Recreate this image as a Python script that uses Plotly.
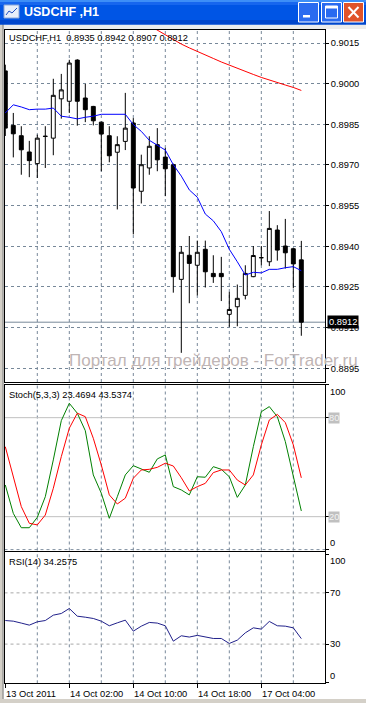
import plotly.graph_objects as go

# ---------------- data ----------------
bar_index = list(range(38))

open_ = [0.90047, 0.89846, 0.89808, 0.89748, 0.89705, 0.89805, 0.89799, 0.89944, 0.89935, 0.90087,
         0.89947, 0.89916, 0.89858, 0.89808, 0.89747, 0.89787, 0.89855, 0.89603, 0.89689, 0.89775,
         0.89729, 0.89701, 0.89278, 0.89367, 0.89330, 0.89389, 0.89300, 0.89300, 0.89149, 0.89177,
         0.89219, 0.89288, 0.89358, 0.89343, 0.89460, 0.89401, 0.89391, 0.89350]
high = [0.90070, 0.89892, 0.89843, 0.89789, 0.89812, 0.89843, 0.90018, 0.90036, 0.90088, 0.90090,
        0.89999, 0.89918, 0.89860, 0.89843, 0.89806, 0.89966, 0.89873, 0.89738, 0.89806, 0.89836,
        0.89763, 0.89705, 0.89401, 0.89438, 0.89421, 0.89421, 0.89367, 0.89361, 0.89232, 0.89259,
        0.89330, 0.89401, 0.89401, 0.89530, 0.89478, 0.89501, 0.89393, 0.89420]
low = [0.89807, 0.89728, 0.89664, 0.89655, 0.89652, 0.89689, 0.89736, 0.89871, 0.89892, 0.89845,
       0.89858, 0.89846, 0.89677, 0.89710, 0.89536, 0.89755, 0.89444, 0.89558, 0.89664, 0.89677,
       0.89585, 0.89229, 0.89007, 0.89190, 0.89219, 0.89248, 0.89265, 0.89198, 0.89103, 0.89105,
       0.89204, 0.89286, 0.89330, 0.89327, 0.89347, 0.89318, 0.89245, 0.89070]
close = [0.89836, 0.89815, 0.89756, 0.89716, 0.89799, 0.89806, 0.89957, 0.89977, 0.90076, 0.89935,
         0.89904, 0.89863, 0.89814, 0.89734, 0.89775, 0.89836, 0.89615, 0.89701, 0.89769, 0.89719,
         0.89686, 0.89288, 0.89378, 0.89337, 0.89378, 0.89306, 0.89288, 0.89288, 0.89167, 0.89208,
         0.89300, 0.89366, 0.89358, 0.89466, 0.89386, 0.89376, 0.89335, 0.89120]

ma_blue = [0.89892, 0.89922, 0.89914, 0.89904, 0.89906, 0.89906, 0.89910, 0.89880, 0.89876, 0.89870,
           0.89876, 0.89880, 0.89887, 0.89887, 0.89887, 0.89887, 0.89849, 0.89824, 0.89791, 0.89773,
           0.89755, 0.89701, 0.89659, 0.89608, 0.89581, 0.89519, 0.89494, 0.89454, 0.89389, 0.89343,
           0.89294, 0.89304, 0.89302, 0.89315, 0.89315, 0.89321, 0.89325, 0.89310]
ma_red = [None] * 17 + [0.90232, 0.90215, 0.90198, 0.90178, 0.90161, 0.90146, 0.90132, 0.90118,
                        0.90106, 0.90093, 0.90080, 0.90068, 0.90056, 0.90045, 0.90034, 0.90023,
                        0.90013, 0.90004, 0.89995, 0.89986, 0.89975]

stoch_main = [39.2, 22.0, 13.3, 13.3, 19.6, 32.1, 54.4, 78.2, 88.7, 82.7,
              72.1, 45.3, 34.2, 19.0, 32.1, 45.3, 50.9, 48.7, 46.9, 55.0,
              57.4, 38.2, 36.2, 33.2, 44.2, 43.9, 50.3, 48.7, 44.2, 31.7,
              39.2, 62.4, 83.6, 86.7, 80.6, 65.5, 44.2, 23.47]
stoch_signal = [62.4, 44.2, 26.1, 16.0, 15.0, 21.0, 37.2, 56.4, 73.6, 82.7,
                80.6, 67.5, 51.3, 33.2, 27.7, 31.2, 43.3, 48.3, 48.7, 49.9,
                52.4, 50.7, 43.6, 35.6, 38.2, 40.2, 46.7, 48.3, 48.3, 42.2,
                39.2, 45.3, 63.5, 78.6, 82.0, 77.0, 63.5, 43.54]
rsi = [48.4, 47.9, 46.4, 44.8, 47.4, 48.4, 52.6, 53.9, 57.8, 51.8,
       51.0, 50.0, 47.9, 44.3, 46.6, 48.7, 40.1, 44.0, 46.9, 46.4,
       44.3, 32.3, 36.5, 35.5, 36.8, 35.5, 34.4, 34.4, 30.5, 33.1,
       38.8, 42.7, 41.7, 47.7, 44.3, 44.0, 42.7, 34.26]

price_ticks = [0.8895, 0.8910, 0.8925, 0.8940, 0.8955, 0.8970, 0.8985, 0.9000, 0.9015]
time_tick_bars = [0, 8, 16, 24, 32]
time_tick_labels = ["13 Oct 2011", "14 Oct 02:00", "14 Oct 10:00", "14 Oct 18:00", "17 Oct 04:00"]
grid_bars = [4, 8, 12, 16, 20, 24, 28, 32, 36]
stoch_levels = [80, 20]
rsi_levels = [70, 30]

# ---------------- geometry / style ----------------
W, H = 366, 703
FONT = "Liberation Sans"
FS = 9.3
GRID = "#778899"
DASH = "3px,3px"


def px(x):
    return x / W


def py(y):
    return 1 - y / H


PANE_L, PANE_R = 4.5, 325
MAIN_T, MAIN_B = 29.5, 382
ST_T, ST_B = 384.5, 550.5
RSI_T, RSI_B = 552, 683.3
XR = [-0.1, 39.96]

fig = go.Figure()

fig.add_trace(go.Candlestick(
    x=bar_index, open=open_, high=high, low=low, close=close,
    increasing=dict(line=dict(color="black", width=1), fillcolor="white"),
    decreasing=dict(line=dict(color="black", width=1), fillcolor="black"),
    whiskerwidth=0, xaxis="x", yaxis="y", showlegend=False, hoverinfo="skip"))
fig.add_trace(go.Scatter(x=bar_index, y=ma_blue, mode="lines", line=dict(color="#0000FF", width=1),
                         xaxis="x", yaxis="y", showlegend=False, hoverinfo="skip"))
fig.add_trace(go.Scatter(x=bar_index, y=ma_red, mode="lines", line=dict(color="#FF0000", width=1),
                         xaxis="x", yaxis="y", showlegend=False, hoverinfo="skip"))
fig.add_trace(go.Scatter(x=bar_index, y=stoch_main, mode="lines", line=dict(color="#008000", width=1),
                         xaxis="x2", yaxis="y2", showlegend=False, hoverinfo="skip"))
fig.add_trace(go.Scatter(x=bar_index, y=stoch_signal, mode="lines", line=dict(color="#FF0000", width=1),
                         xaxis="x2", yaxis="y2", showlegend=False, hoverinfo="skip"))
fig.add_trace(go.Scatter(x=bar_index, y=rsi, mode="lines", line=dict(color="#20208A", width=1),
                         xaxis="x3", yaxis="y3", showlegend=False, hoverinfo="skip"))

xbase = dict(domain=[px(PANE_L), px(PANE_R)], range=XR, showgrid=False, zeroline=False,
             showline=True, mirror=True, linecolor="black", linewidth=1, fixedrange=True)
ybase = dict(side="right", zeroline=False, showline=True, mirror=True, linecolor="black",
             linewidth=1, ticks="outside", ticklen=3, tickcolor="black", fixedrange=True)

layout = dict(
    width=W, height=H, margin=dict(l=0, r=0, t=0, b=0),
    paper_bgcolor="white", plot_bgcolor="white", showlegend=False,
    font=dict(family=FONT, size=FS, color="black"),
    xaxis=dict(xbase, anchor="y", showticklabels=False, ticks="", rangeslider=dict(visible=False)),
    yaxis=dict(ybase, anchor="x", domain=[py(MAIN_B), py(MAIN_T)], range=[0.888994, 0.901998],
               tickvals=price_ticks, ticktext=[f"{v:.4f}" for v in price_ticks],
               showgrid=True, gridcolor=GRID, gridwidth=1, griddash=DASH,
               tickfont=dict(family=FONT, size=FS, color="black")),
    xaxis2=dict(xbase, anchor="y2", showticklabels=False, ticks=""),
    yaxis2=dict(ybase, anchor="x2", domain=[py(ST_B), py(ST_T)], range=[-0.5, 100.1],
                tickvals=[0, 20, 80, 100], showticklabels=False, showgrid=False),
    xaxis3=dict(xbase, anchor="y3", tickvals=time_tick_bars, showticklabels=False,
                ticks="outside", ticklen=4, tickcolor="black"),
    yaxis3=dict(ybase, anchor="x3", domain=[py(RSI_B), py(RSI_T)], range=[-0.6, 101.9],
                tickvals=[0, 30, 70, 100], showticklabels=False, showgrid=False),
)
fig.update_layout(**layout)

shapes = []
# vertical dashed grid in every pane
for b in grid_bars:
    for xr, yr in [("x", "y"), ("x2", "y2"), ("x3", "y3")]:
        shapes.append(dict(type="line", xref=xr, yref=yr + " domain", x0=b, x1=b, y0=0, y1=1,
                           line=dict(color=GRID, width=1, dash=DASH), layer="below"))
# stochastic levels
for lv in stoch_levels:
    shapes.append(dict(type="line", xref="x2 domain", yref="y2", x0=0, x1=1, y0=lv, y1=lv,
                       line=dict(color="#C0C0C0", width=1), layer="below"))
shapes.append(dict(type="line", xref="x2 domain", yref="y2", x0=0, x1=1, y0=0, y1=0,
                   line=dict(color=GRID, width=1, dash=DASH), layer="below"))
# rsi levels
for lv in rsi_levels:
    shapes.append(dict(type="line", xref="x3 domain", yref="y3", x0=0, x1=1, y0=lv, y1=lv,
                       line=dict(color="#A8A8A8", width=1, dash=DASH), layer="below"))
# current price line
shapes.append(dict(type="line", xref="x domain", yref="y", x0=0, x1=1, y0=close[-1], y1=close[-1],
                   line=dict(color=GRID, width=1), layer="below"))


def prect(x0, y0, x1, y1, fill, line=None, lw=0):
    return dict(type="rect", xref="paper", yref="paper", x0=px(x0), x1=px(x1), y0=py(y1), y1=py(y0),
                fillcolor=fill, line=dict(color=line or fill, width=lw), layer="above")


def pline(x0, y0, x1, y1, color, lw=1):
    return dict(type="line", xref="paper", yref="paper", x0=px(x0), x1=px(x1), y0=py(y0), y1=py(y1),
                line=dict(color=color, width=lw), layer="above")


# window chrome
shapes += [
    prect(0, 24, 366, 29, "#ECECEC"),
    prect(0, 24, 3.5, 703, "#D4D0C8"),
    pline(3, 24, 3, 699, "#808080"),
    prect(0, 699, 366, 703, "#D4D0C8"),
    prect(0, 0, 366, 24.5, "#0055E5"),
    prect(0, 0, 366, 2, "#3D8EF7"),
    prect(0, 2, 366, 5, "#1766EE"),
    prect(0, 20, 366, 24.5, "#0046CC"),
    # icon
    prect(4, 5, 19, 18, "#E6EEFA", "#8AA6D6", 1),
    pline(6, 15, 9, 11, "#2050C0"), pline(9, 11, 12, 13, "#2050C0"), pline(12, 13, 17, 8, "#2050C0"),
    # minimize
    prect(298.5, 2.5, 318.5, 22, "#2A6BF0", "white", 1),
    prect(303, 15, 310, 17.5, "white"),
    # maximize
    prect(321.5, 2.5, 341.5, 22, "#2A6BF0", "white", 1),
    prect(325.5, 6, 337.5, 18, "rgba(0,0,0,0)", "white", 1),
    prect(325.5, 6, 337.5, 8.5, "white"),
    # close
    prect(343.5, 2.5, 363.5, 22, "#E0532A", "white", 1),
    pline(348.5, 7, 358.5, 17.5, "white", 2),
    pline(358.5, 7, 348.5, 17.5, "white", 2),
]
fig.update_layout(shapes=shapes)

ann = []
tf = dict(family=FONT, size=FS, color="black")
ann.append(dict(xref="paper", yref="paper", x=px(7), y=py(38), xanchor="left", yanchor="middle",
                text="USDCHF,H1\u00a0\u00a0%.4f %.4f %.4f %.4f" % (open_[-1], high[-1], low[-1], close[-1]),
                showarrow=False, font=tf))
ann.append(dict(xref="paper", yref="paper", x=px(7), y=py(395), xanchor="left", yanchor="middle",
                text="Stoch(5,3,3) 23.4694 43.5374", showarrow=False, font=tf))
ann.append(dict(xref="paper", yref="paper", x=px(7), y=py(562), xanchor="left", yanchor="middle",
                text="RSI(14) 34.2575", showarrow=False, font=tf))
# watermark
ann.append(dict(xref="paper", yref="paper", x=px(213), y=py(360), xanchor="center", yanchor="middle",
                text="Портал для трейдеров - ForTrader.ru", showarrow=False,
                font=dict(family=FONT, size=17, color="#BFB5B5")))
# current price box
ann.append(dict(xref="paper", yref="y", x=px(326.5), y=close[-1], xanchor="left", yanchor="middle",
                text="%.4f" % close[-1], showarrow=False, bgcolor="black", borderpad=1,
                font=dict(family=FONT, size=FS, color="white")))
# stochastic axis labels
LX = px(328)
ann.append(dict(xref="paper", yref="y2", x=LX, y=100, xanchor="left", yanchor="top", text="100",
                showarrow=False, font=tf))
ann.append(dict(xref="paper", yref="y2", x=LX, y=0, xanchor="left", yanchor="bottom", text="0",
                showarrow=False, font=tf))
for lv in stoch_levels:
    ann.append(dict(xref="paper", yref="y2", x=LX, y=lv, xanchor="left", yanchor="middle", text=str(lv),
                    showarrow=False, bgcolor="#C0C0C0", borderpad=0,
                    font=dict(family=FONT, size=FS, color="#F4F4F4")))
# rsi axis labels
ann.append(dict(xref="paper", yref="y3", x=LX, y=100, xanchor="left", yanchor="top", text="100",
                showarrow=False, font=tf))
ann.append(dict(xref="paper", yref="y3", x=LX, y=0, xanchor="left", yanchor="bottom", text="0",
                showarrow=False, font=tf))
for lv in rsi_levels:
    ann.append(dict(xref="paper", yref="y3", x=LX, y=lv, xanchor="left", yanchor="middle", text=str(lv),
                    showarrow=False, font=tf))
# time labels
for b, lab in zip(time_tick_bars, time_tick_labels):
    ann.append(dict(xref="x3", yref="paper", x=b, y=py(693.5), xanchor="left", yanchor="middle",
                    xshift=-1, text=lab, showarrow=False, font=tf))
# window title
ann.append(dict(xref="paper", yref="paper", x=px(21.5), y=py(12), xanchor="left", yanchor="middle",
                text="<b>USDCHF ,H1</b>", showarrow=False,
                font=dict(family=FONT, size=12.5, color="white")))
fig.update_layout(annotations=ann)

fig.write_html("out.html", config={"displayModeBar": False, "staticPlot": True},
               post_script="document.body.style.margin='0';document.body.style.overflow='hidden';")
